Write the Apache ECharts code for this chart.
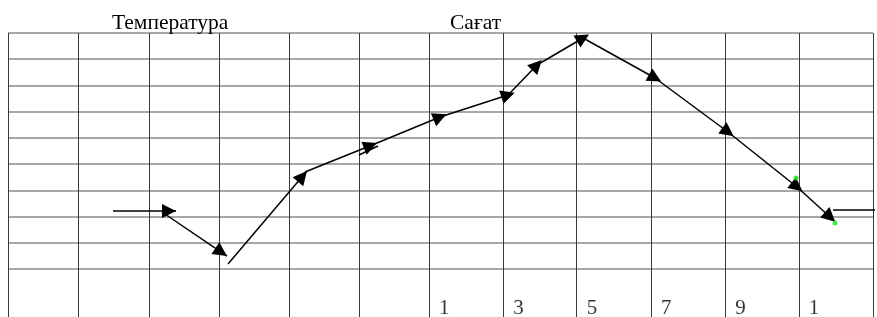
<!DOCTYPE html>
<html><head><meta charset="utf-8">
<script src="https://cdn.jsdelivr.net/npm/echarts@6/dist/echarts.min.js"></script>
<style>html,body{margin:0;padding:0;background:#fff}#c{width:877px;height:317px}</style>
</head><body><div id="c"></div>
<script>
// ---- data ----
const titleLeft = 'Температура';
const titleRight = 'Сағат';
const columnLines = [0, 0.97, 1.96, 2.93, 3.90, 4.87, 5.84, 6.87, 7.89, 8.92, 9.95, 10.97, 12];
const rowLines = [0, 1, 2, 3, 4, 5, 6, 7, 8, 9];
const hourLabels = ['1', '3', '5', '7', '9', '1'];
const hourLabelX = [5.84, 6.87, 7.89, 8.92, 9.95, 10.97];
const startPath = [[1.457, 2.212], [2.331, 2.212]];
const dropPath = [[2.136, 2.174], [3.038, 0.496]];
const risePath = [[3.052, 0.191], [4.148, 3.737]];
const mainPath = [[4.120, 3.699], [5.119, 4.805], [5.993, 5.797], [6.937, 6.636], [7.339, 7.780],
                  [7.977, 8.809], [8.976, 7.284], [9.989, 5.225], [10.946, 3.127], [11.404, 1.983]];
const overlapPath = [[4.869, 4.347], [5.133, 4.691]];
const tailPath = [[11.445, 2.250], [12.06, 2.250]];
const greenPoints = [[10.932, 3.470], [11.473, 1.754]];

// ---- build ----
const Y_MIN = -1.83, Y_MAX = 9;
const ARROW_W = 11, ARROW_L = 14;
const TIP_ANCHORED = 4; // first arrows end with their tip on the point; the rest are centred on it
function segments(path) {
  const out = [];
  for (let i = 0; i < path.length - 1; i++) out.push({ coords: [path[i], path[i + 1]] });
  return out;
}
const arrowSegs = [].concat(segments(startPath), segments(dropPath), segments(risePath), segments(mainPath));
const plainSegs = [].concat(segments(overlapPath), segments(tailPath));

const gridMarks = [];
rowLines.forEach(v => gridMarks.push({ yAxis: v, lineStyle: { color: '#8a8a8a', width: 1.6, type: 'solid' } }));
columnLines.forEach(v => gridMarks.push({ xAxis: v, lineStyle: { color: '#3a3a3a', width: 1, type: 'solid' } }));

const serif = '"Liberation Serif", "DejaVu Serif", serif';
const chart = echarts.init(document.getElementById('c'), null, { renderer: 'canvas' });
const lineStyle = { color: '#000', width: 1.5, opacity: 1, curveness: 0 };
chart.setOption({
  animation: false,
  backgroundColor: '#fff',
  title: [
    { text: titleLeft, left: 112, top: 12, padding: 0, textStyle: { fontFamily: serif, fontSize: 21.5, fontWeight: 'normal', color: '#000' } },
    { text: titleRight, left: 450, top: 12, padding: 0, textStyle: { fontFamily: serif, fontSize: 21.5, fontWeight: 'normal', color: '#000' } }
  ],
  grid: { left: 8, right: 4, top: 33, bottom: 0, containLabel: false },
  xAxis: { type: 'value', min: 0, max: 12, show: false },
  yAxis: { type: 'value', min: Y_MIN, max: Y_MAX, show: false },
  series: [
    {
      type: 'scatter', silent: true, z: 1,
      data: hourLabelX.map((x, i) => ({ value: [x, -1.52], label: { formatter: hourLabels[i] } })),
      symbolSize: 0,
      label: { show: true, position: 'right', distance: 10, fontFamily: serif, fontSize: 21, color: '#000' },
      markLine: { silent: true, symbol: ['none', 'none'], label: { show: false }, animation: false, data: gridMarks }
    },
    {
      id: 'arrowLines', type: 'lines', coordinateSystem: 'cartesian2d', silent: true, z: 5,
      symbol: ['none', 'none'],
      lineStyle: lineStyle,
      data: arrowSegs
    },
    {
      id: 'arrowHeads', type: 'lines', coordinateSystem: 'cartesian2d', silent: true, z: 6,
      symbol: ['none', 'triangle'], symbolSize: [ARROW_W, ARROW_L],
      lineStyle: lineStyle,
      itemStyle: { color: '#000' },
      data: []
    },
    {
      type: 'lines', coordinateSystem: 'cartesian2d', silent: true, z: 5,
      symbol: ['none', 'none'],
      lineStyle: lineStyle,
      data: plainSegs
    },
    {
      type: 'scatter', silent: true, z: 7, symbolSize: 5,
      itemStyle: { color: '#22dd22' },
      data: greenPoints
    }
  ]
});
// arrow heads placed along each segment's direction
const heads = arrowSegs.map((s, i) => {
  const a = chart.convertToPixel({ gridIndex: 0 }, s.coords[0]);
  const b = chart.convertToPixel({ gridIndex: 0 }, s.coords[1]);
  const dx = b[0] - a[0], dy = b[1] - a[1];
  const len = Math.hypot(dx, dy);
  const back = i < TIP_ANCHORED ? ARROW_L / 2 : 0;
  const c = [b[0] - dx / len * back, b[1] - dy / len * back];
  const p = [c[0] - dx / len * 2, c[1] - dy / len * 2];
  return { coords: [chart.convertFromPixel({ gridIndex: 0 }, p), chart.convertFromPixel({ gridIndex: 0 }, c)] };
});
chart.setOption({ series: [{ id: 'arrowHeads', data: heads }] });
</script></body></html>
